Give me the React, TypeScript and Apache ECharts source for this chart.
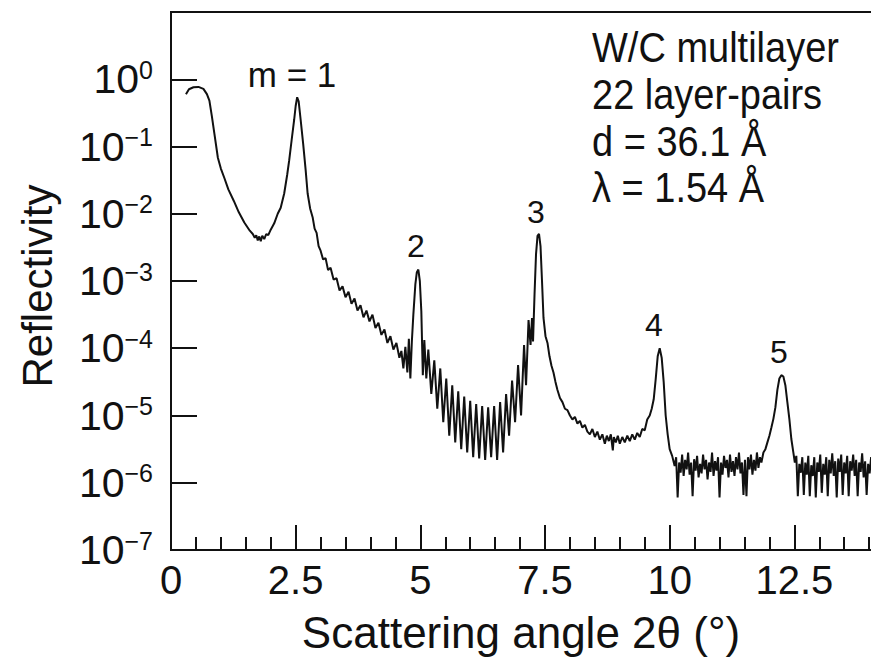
import React, { useEffect, useRef } from "react";
import * as echarts from "echarts";

// ---- data: [scattering angle 2θ (°), reflectivity] ----
const totalReflectionAndFirstPeak: [number, number][] = [
  [0.3, 0.6], [0.36, 0.71], [0.45, 0.76], [0.55, 0.77], [0.65, 0.72], [0.72, 0.6],
  [0.77, 0.48], [0.82, 0.28], [0.87, 0.155], [0.94, 0.068], [1.0, 0.047], [1.07, 0.034],
  [1.15, 0.023], [1.26, 0.0155], [1.36, 0.0105], [1.47, 0.0074], [1.58, 0.0056],
  [1.64, 0.005], [1.68, 0.0044], [1.71, 0.0048], [1.74, 0.004], [1.77, 0.0046],
  [1.8, 0.0039], [1.83, 0.0047], [1.87, 0.0042], [1.91, 0.005], [1.95, 0.0048],
  [2.0, 0.0058], [2.07, 0.0072], [2.14, 0.01], [2.2, 0.0123], [2.27, 0.02],
  [2.33, 0.038], [2.37, 0.062], [2.42, 0.126], [2.47, 0.25], [2.5, 0.4], [2.53, 0.54],
  [2.56, 0.47], [2.6, 0.25], [2.65, 0.11], [2.7, 0.045], [2.74, 0.02], [2.79, 0.012],
  [2.84, 0.0089], [2.88, 0.006], [2.92, 0.0052], [2.96, 0.0033],
];

const fringesBetween1And2: [number, number][] = [
  [3.0, 2.82e-3], [3.05, 2.09e-3], [3.1, 2.19e-3], [3.15, 1.45e-3], [3.2, 1.58e-3],
  [3.26, 1.05e-3], [3.32, 1.1e-3], [3.38, 7.24e-4], [3.44, 8.32e-4], [3.5, 5.75e-4],
  [3.56, 6.92e-4], [3.62, 4.57e-4], [3.68, 5.5e-4], [3.74, 3.63e-4], [3.8, 4.37e-4],
  [3.86, 2.88e-4], [3.92, 3.63e-4], [3.98, 2.51e-4], [4.04, 3.16e-4], [4.1, 2.0e-4],
  [4.16, 2.4e-4], [4.22, 1.58e-4], [4.28, 1.91e-4], [4.34, 1.2e-4], [4.4, 1.51e-4],
  [4.46, 9.55e-5], [4.52, 1.2e-4], [4.58, 7.24e-5], [4.62, 9.12e-5], [4.66, 5.01e-5],
  [4.7, 1.05e-4], [4.74, 4.37e-5], [4.77, 1.38e-4], [4.8, 3.55e-5], [4.83, 1.26e-4],
  [4.86, 3.16e-4], [4.9, 8.91e-4], [4.93, 1.35e-3], [4.96, 1.48e-3], [4.99, 1.0e-3],
  [5.02, 3.55e-4], [5.05, 3.98e-5], [5.08, 1.32e-4], [5.12, 3.55e-5],
];

const fringesBetween2And3: [number, number][] = [
  [5.16, 9.55e-5], [5.22, 2.09e-5], [5.28, 6.61e-5], [5.34, 1.26e-5], [5.4, 5.01e-5],
  [5.46, 7.94e-6], [5.52, 3.55e-5], [5.58, 5.01e-6], [5.64, 2.82e-5], [5.7, 3.98e-6],
  [5.76, 2.29e-5], [5.82, 3.16e-6], [5.88, 1.91e-5], [5.94, 2.82e-6], [6.0, 1.66e-5],
  [6.06, 2.4e-6], [6.12, 1.48e-5], [6.18, 2.29e-6], [6.24, 1.38e-5], [6.3, 2.19e-6],
  [6.36, 1.32e-5], [6.42, 2.4e-6], [6.48, 1.38e-5], [6.54, 2.19e-6], [6.6, 1.58e-5],
  [6.66, 2.82e-6], [6.72, 2.09e-5], [6.78, 5.01e-6], [6.84, 3.31e-5], [6.9, 7.94e-6],
  [6.96, 5.62e-5], [7.02, 1.0e-5], [7.08, 1.12e-4], [7.12, 2.82e-5], [7.17, 2.63e-4],
  [7.21, 1.12e-4], [7.24, 2.82e-4], [7.26, 1.26e-4], [7.29, 6.31e-4], [7.32, 2.51e-3],
  [7.35, 4.68e-3], [7.38, 5.01e-3], [7.41, 3.31e-3], [7.44, 1.0e-3], [7.47, 2.82e-4],
];

const tailTo4: [number, number][] = [
  [7.51, 1.51e-4], [7.55, 1.2e-4], [7.59, 7.59e-5], [7.63, 5.5e-5], [7.67, 4.37e-5],
  [7.71, 3.16e-5], [7.75, 2.4e-5], [7.8, 1.82e-5], [7.85, 1.58e-5], [7.9, 1.26e-5],
  [7.95, 1.2e-5], [8.0, 1.0e-5], [8.05, 8.71e-6], [8.1, 9.55e-6], [8.15, 7.59e-6],
  [8.2, 8.32e-6], [8.25, 6.61e-6], [8.3, 7.24e-6], [8.35, 5.75e-6], [8.4, 5.25e-6],
  [8.45, 6.31e-6], [8.5, 4.79e-6], [8.55, 5.75e-6], [8.6, 4.37e-6], [8.65, 5.25e-6],
  [8.7, 3.8e-6], [8.74, 5.01e-6], [8.78, 4.17e-6], [8.82, 5.25e-6], [8.86, 3.02e-6],
  [8.88, 4.79e-6], [8.92, 3.98e-6], [8.96, 5.01e-6], [9.0, 3.8e-6], [9.05, 4.79e-6],
  [9.1, 3.98e-6], [9.15, 5.01e-6], [9.2, 4.17e-6], [9.25, 5.25e-6], [9.3, 4.37e-6],
  [9.35, 5.5e-6], [9.4, 4.79e-6], [9.45, 6.31e-6], [9.5, 6.03e-6], [9.55, 8.71e-6],
  [9.6, 1.0e-5], [9.64, 1.26e-5], [9.68, 1.74e-5], [9.72, 3.47e-5], [9.76, 7.59e-5],
  [9.8, 1.0e-4], [9.84, 7.24e-5], [9.88, 3.16e-5], [9.92, 1.0e-5], [9.96, 5.25e-6],
  [10.0, 3.16e-6], [10.05, 2.51e-6], [10.1, 1.78e-6],
];

const floorTo5: [number, number][] = [
  [10.13, 2.4e-6], [10.16, 6.03e-7], [10.19, 2.0e-6], [10.22, 1.41e-6], [10.25, 2.63e-6],
  [10.28, 1.26e-6], [10.31, 2.19e-6], [10.34, 1.58e-6], [10.37, 2.82e-6], [10.4, 1.32e-6],
  [10.43, 2.0e-6], [10.46, 6.31e-7], [10.49, 2.24e-6], [10.52, 1.51e-6], [10.55, 2.51e-6],
  [10.58, 1.2e-6], [10.61, 1.91e-6], [10.64, 1.38e-6], [10.67, 2.63e-6], [10.7, 1.58e-6],
  [10.73, 2.19e-6], [10.76, 1.12e-6], [10.79, 2.0e-6], [10.82, 1.45e-6], [10.85, 2.82e-6],
  [10.88, 1.26e-6], [10.91, 2.09e-6], [10.94, 1.51e-6], [10.97, 2.4e-6], [11.0, 6.03e-7],
  [11.03, 2.0e-6], [11.06, 1.32e-6], [11.09, 2.51e-6], [11.12, 1.66e-6], [11.15, 2.19e-6],
  [11.18, 1.2e-6], [11.21, 2.63e-6], [11.24, 1.45e-6], [11.27, 2.09e-6], [11.3, 1.26e-6],
  [11.33, 2.4e-6], [11.36, 1.58e-6], [11.39, 2.82e-6], [11.42, 1.38e-6], [11.45, 2.0e-6],
  [11.48, 6.61e-7], [11.51, 2.19e-6], [11.54, 6.31e-7], [11.57, 2.4e-6], [11.6, 1.58e-6],
  [11.63, 2.63e-6], [11.66, 1.32e-6], [11.69, 2.19e-6], [11.72, 1.51e-6], [11.75, 2.82e-6],
  [11.78, 1.66e-6], [11.81, 2.4e-6], [11.84, 2.0e-6], [11.88, 2.82e-6], [11.92, 3.16e-6],
  [11.96, 3.98e-6], [12.0, 5.01e-6], [12.04, 6.61e-6], [12.08, 8.91e-6], [12.12, 1.32e-5],
  [12.16, 2.4e-5], [12.2, 3.55e-5], [12.24, 3.98e-5], [12.28, 3.8e-5], [12.32, 2.82e-5],
  [12.36, 1.58e-5], [12.4, 8.91e-6], [12.44, 4.47e-6], [12.48, 2.82e-6], [12.51, 2.0e-6],
];

const floorAfter5: [number, number][] = [
  [12.54, 2.51e-6], [12.57, 6.31e-7], [12.6, 1.91e-6], [12.63, 1.41e-6], [12.66, 2.4e-6],
  [12.69, 6.61e-7], [12.72, 2.0e-6], [12.75, 1.32e-6], [12.78, 2.51e-6], [12.81, 6.31e-7],
  [12.84, 1.82e-6], [12.87, 1.26e-6], [12.9, 2.4e-6], [12.93, 6.03e-7], [12.96, 2.0e-6],
  [12.99, 1.45e-6], [13.02, 2.63e-6], [13.05, 7.08e-7], [13.08, 1.91e-6], [13.11, 1.32e-6],
  [13.14, 2.4e-6], [13.17, 6.31e-7], [13.2, 2.19e-6], [13.23, 1.38e-6], [13.26, 2.75e-6],
  [13.29, 1.26e-6], [13.32, 2.09e-6], [13.35, 6.03e-7], [13.38, 2.29e-6], [13.41, 1.45e-6],
  [13.44, 2.63e-6], [13.47, 6.61e-7], [13.5, 2.0e-6], [13.53, 1.38e-6], [13.56, 2.51e-6],
  [13.59, 6.31e-7], [13.62, 2.09e-6], [13.65, 1.51e-6], [13.68, 2.63e-6], [13.71, 1.26e-6],
  [13.74, 2.19e-6], [13.77, 6.31e-7], [13.8, 2.0e-6], [13.83, 1.45e-6], [13.86, 2.75e-6],
  [13.89, 1.2e-6], [13.92, 2.09e-6], [13.95, 6.61e-7], [13.98, 1.91e-6], [14.01, 1.38e-6],
  [14.04, 2.4e-6], [14.07, 1.58e-6], [14.1, 2.0e-6],
];

const xTickValues = [0, 2.5, 5, 7.5, 10, 12.5];
const peakLabels = ["m = 1", "2", "3", "4", "5"];
const infoLines = ["W/C multilayer", "22 layer-pairs", "d = 36.1 Å", "λ = 1.54 Å"];

const FONT = "'Liberation Sans', Arial, Helvetica, sans-serif";
const INK = "#111";

export default function App() {
  const ref = useRef<HTMLDivElement>(null);

  useEffect(() => {
    if (!ref.current) return;
    const chart = echarts.init(ref.current, null, { renderer: "svg" });

    const data = [
      ...totalReflectionAndFirstPeak,
      ...fringesBetween1And2,
      ...fringesBetween2And3,
      ...tailTo4,
      ...floorTo5,
      ...floorAfter5,
    ];

    const peakPos = [
      [292, 74],
      [416, 246],
      [536, 212],
      [654, 325],
      [779, 352],
    ];
    const peakFont = [35, 32, 32, 32, 32];
    const infoY = [47, 94, 141, 187];

    const sup = (e: number) => (e < 0 ? "\u2212" + -e : String(e));

    chart.setOption({
      animation: false,
      backgroundColor: "#fff",
      grid: {
        left: 171,
        top: 12,
        width: 748,
        bottom: 107,
        show: true,
        borderColor: INK,
        borderWidth: 2,
      },
      xAxis: {
        type: "value",
        min: 0,
        max: 15,
        interval: 2.5,
        axisLine: { show: true, lineStyle: { color: INK, width: 2 } },
        axisTick: { show: true, inside: true, length: 25, lineStyle: { color: INK, width: 2 } },
        minorTick: { show: true, splitNumber: 5, length: 13, lineStyle: { color: INK, width: 2 } },
        splitLine: { show: false },
        axisLabel: {
          fontSize: 40,
          fontFamily: FONT,
          color: INK,
          margin: 10,
          showMaxLabel: false,
          formatter: (v: number) => (xTickValues.includes(v) ? String(v) : ""),
        },
      },
      yAxis: {
        type: "log",
        logBase: 10,
        min: 1e-7,
        max: 10,
        splitNumber: 8,
        axisLine: { show: true, lineStyle: { color: INK, width: 2 } },
        axisTick: { show: true, inside: true, length: 26, lineStyle: { color: INK, width: 2 } },
        splitLine: { show: false },
        axisLabel: {
          margin: 18,
          formatter: (v: number) => {
            const e = Math.round(Math.log10(v));
            if (e > 0) return "";
            return "{b|10}{s|" + sup(e) + "}";
          },
          rich: {
            b: { fontSize: 41, fontFamily: FONT, color: INK, lineHeight: 44 },
            s: { fontSize: 25, fontFamily: FONT, color: INK, verticalAlign: "top", padding: [0, 0, 14, 0] },
          },
        },
      },
      graphic: [
        {
          type: "text",
          x: 521,
          y: 632,
          style: {
            text: "Scattering angle 2θ (°)",
            fontSize: 44,
            fontFamily: FONT,
            fill: INK,
            align: "center",
            verticalAlign: "middle",
          },
        },
        {
          type: "text",
          x: 37,
          y: 286,
          rotation: Math.PI / 2,
          style: {
            text: "Reflectivity",
            fontSize: 42,
            fontFamily: FONT,
            fill: INK,
            align: "center",
            verticalAlign: "middle",
          },
        },
        ...peakLabels.map((t, i) => ({
          type: "text",
          x: peakPos[i][0],
          y: peakPos[i][1],
          style: {
            text: t,
            fontSize: peakFont[i],
            fontFamily: FONT,
            fill: INK,
            align: "center",
            verticalAlign: "middle",
          },
        })),
        ...infoLines.map((t, i) => ({
          type: "text",
          x: 592,
          y: infoY[i],
          scaleY: 1.12,
          style: {
            text: t,
            fontSize: 38,
            fontFamily: FONT,
            fill: INK,
            align: "left",
            verticalAlign: "middle",
          },
        })),
      ],
      series: [
        {
          type: "line",
          data,
          showSymbol: false,
          clip: true,
          lineStyle: { color: INK, width: 2 },
        },
      ],
    });

    return () => chart.dispose();
  }, []);

  return (
    <div
      style={{
        position: "absolute",
        left: 0,
        top: 0,
        width: 871,
        height: 657,
        overflow: "hidden",
        background: "#fff",
      }}
    >
      <div ref={ref} style={{ width: 940, height: 657 }} />
    </div>
  );
}
